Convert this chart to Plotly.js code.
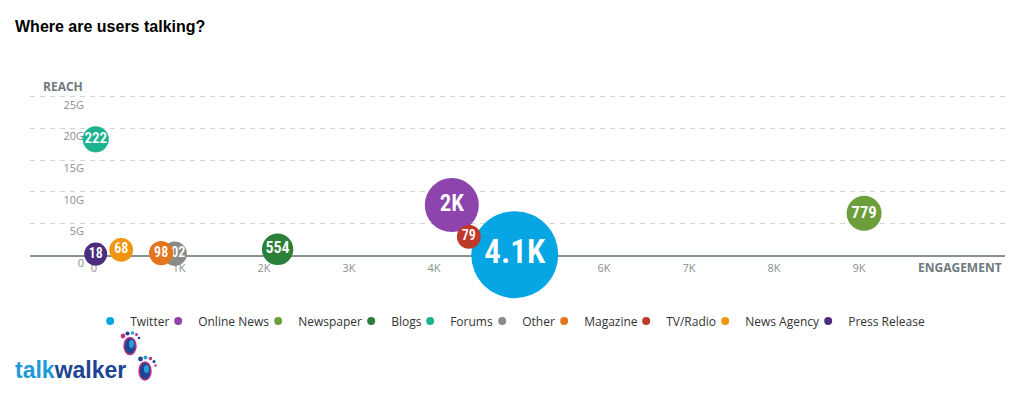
<!DOCTYPE html>
<html><head><meta charset="utf-8">
<script src="https://cdn.plot.ly/plotly-3.0.1.min.js"></script>
<style>html,body{margin:0;padding:0;background:#fff;}#chart{width:1009px;height:396px;}</style>
</head><body><div id="chart"></div>
<script>
// ---- data ----
const categories = ['Twitter','Online News','Newspaper','Blogs','Forums','Other','Magazine','TV/Radio','News Agency','Press Release'];
const engagement = [4950, 4210, 9060, 2160, 20, 950, 790, 4410, 320, 20];
const reachG     = [0.05, 7.9, 6.6, 0.9, 18.3, 0.2, 0.3, 2.9, 0.8, 0.15];
const mentions   = [4100, 2000, 779, 554, 222, 102, 98, 79, 68, 18];
const colors     = ['#05a6e3','#8e44ad','#6c9e3b','#2a8038','#1cb391','#8a8a8a','#e3751f','#bf392b','#f0950f','#4b2d7f'];
const xTickVals  = [0,1000,2000,3000,4000,5000,6000,7000,8000,9000];
const xTickText  = ['0','1K','2K','3K','4K','5K','6K','7K','8K','9K'];
const yTickVals  = [0,5,10,15,20,25];
const yTickText  = ['0','5G','10G','15G','20G','25G'];

// ---- scales / helpers ----
const W = 1009, H = 396, ML = 30, MR = 4, MT = 90, MB = 141;
const PW = W - ML - MR, PH = H - MT - MB;
const px2x = px => (px - ML) / PW;
const py2y = py => (H - MB - py) / PH;
const vmin = Math.min(...mentions), vmax = Math.max(...mentions);
const D_MIN = 23, D_MAX = 87;
const diam = v => D_MIN + (v - vmin) / (vmax - vmin) * (D_MAX - D_MIN);
const fontFor = d => Math.round(0.3 * d + 7);
const fmt = v => v >= 1000 ? (Math.round(v / 100) / 10) + 'K' : String(v);
const bubbleFont = '"Roboto Condensed","Liberation Sans Narrow","DejaVu Sans Condensed","Roboto",sans-serif';
const legendFontFamily = 'Open Sans';
const legendFontSize = 12;

const ctx = document.createElement('canvas').getContext('2d');
ctx.font = legendFontSize + 'px "' + legendFontFamily + '"';
const textW = s => ctx.measureText(s).width;

const traces = [];
categories.forEach((c, i) => {
  const d = diam(mentions[i]);
  traces.push({
    type: 'scatter', mode: 'markers+text', name: c,
    x: [engagement[i]], y: [reachG[i]],
    text: [fmt(mentions[i])], textposition: 'middle center',
    textfont: {color: '#ffffff', size: fontFor(d), family: bubbleFont, weight: 600},
    marker: {size: [d], color: colors[i], opacity: 1, line: {width: 0}},
    cliponaxis: false, showlegend: false, hoverinfo: 'name+text'
  });
});
categories.forEach((c, i) => {
  const tw = textW(c);
  traces.push({
    type: 'scatter', mode: 'markers', name: c,
    x: [null], y: [null],
    marker: {size: 8, color: colors[i]},
    showlegend: true, hoverinfo: 'skip',
    legendwidth: Math.round(i === categories.length - 1 ? tw + 2 : tw - 16)
  });
});

// footprint logo decoration
const shapes = [];
function ell(cx, cy, rx, ry, color, line) {
  shapes.push({type: 'circle', xref: 'paper', yref: 'paper',
    x0: px2x(cx - rx), x1: px2x(cx + rx), y0: py2y(cy + ry), y1: py2y(cy - ry),
    fillcolor: color, line: line || {width: 0}});
}
const dot = (cx, cy, r, color) => ell(cx, cy, r, r, color);
ell(130, 346, 6, 8.5, '#1d4594', {color: '#c2357b', width: 1.5});
ell(131.5, 344, 2.5, 4, '#2b9ed8');
dot(123, 336, 2.4, '#c2357b'); dot(127.5, 333.5, 2.1, '#1d4594'); dot(132.5, 333, 1.8, '#2b9ed8');
dot(136.5, 334.5, 1.5, '#c2357b'); dot(139, 338, 1.3, '#1d4594');
ell(145, 371, 6, 9, '#1d4594', {color: '#c2357b', width: 1.5});
ell(146.5, 369, 2.5, 4, '#2b9ed8');
dot(140.5, 359, 2.4, '#1d4594'); dot(145.5, 357.5, 2.0, '#2b9ed8'); dot(150.5, 358.5, 1.8, '#c2357b');
dot(154, 361.5, 1.5, '#1d4594'); dot(155.5, 365.5, 1.3, '#c2357b');

const axisFont = {family: 'Open Sans', size: 11, color: '#8b8f91'};
const layout = {
  width: W, height: H,
  margin: {l: ML, r: MR, t: MT, b: MB, pad: 0},
  paper_bgcolor: '#ffffff', plot_bgcolor: '#ffffff',
  title: {text: 'Where are users talking?', x: 15 / W, xanchor: 'left', xref: 'container',
          y: 1 - 26 / H, yanchor: 'middle', yref: 'container',
          font: {family: 'Liberation Sans, Arial, sans-serif', size: 16, color: '#000', weight: 'bold'}},
  xaxis: {range: [-753, 10718], tickmode: 'array', tickvals: xTickVals, ticktext: xTickText,
          showgrid: false, zeroline: false, showline: true, linecolor: '#87918f', linewidth: 2,
          ticks: '', tickfont: axisFont, ticklabelstandoff: 2,
          layer: 'below traces', fixedrange: true, automargin: false},
  yaxis: {range: [0, 26.1], tickmode: 'array', tickvals: yTickVals, ticktext: yTickText,
          showgrid: true, gridcolor: '#d4d4d4', gridwidth: 1, griddash: '5px,5px',
          zeroline: false, showline: false, ticks: '', tickfont: axisFont,
          ticklabelstandoff: -55, ticklabelshift: 8,
          layer: 'below traces', fixedrange: true, automargin: false},
  showlegend: true,
  legend: {orientation: 'h', x: 0.493, xanchor: 'center', y: py2y(321), yanchor: 'middle',
           font: {family: legendFontFamily, size: legendFontSize, color: '#333'},
           bgcolor: 'rgba(0,0,0,0)', borderwidth: 0, itemclick: false, itemdoubleclick: false},
  annotations: [
    {text: 'REACH', xref: 'paper', yref: 'paper', x: px2x(85), xanchor: 'right', y: py2y(86), yanchor: 'middle',
     showarrow: false, font: {family: 'Open Sans', size: 12, color: '#6e7a7e', weight: 'bold'}},
    {text: 'ENGAGEMENT', xref: 'paper', yref: 'paper', x: px2x(1004), xanchor: 'right', y: py2y(267), yanchor: 'middle',
     showarrow: false, font: {family: 'Open Sans', size: 12, color: '#6e7a7e', weight: 'bold'}},
    {text: '<span style="color:#1e9bd8">talk</span><span style="color:#1d4594">walker</span>',
     xref: 'paper', yref: 'paper', x: px2x(13), xanchor: 'left', y: py2y(370), yanchor: 'middle',
     showarrow: false, font: {family: 'Liberation Sans, Arial, sans-serif', size: 23, weight: 'bold'}}
  ],
  shapes: shapes,
  hovermode: 'closest'
};
Plotly.newPlot('chart', traces, layout, {displayModeBar: false, responsive: false});
</script>
</body></html>
